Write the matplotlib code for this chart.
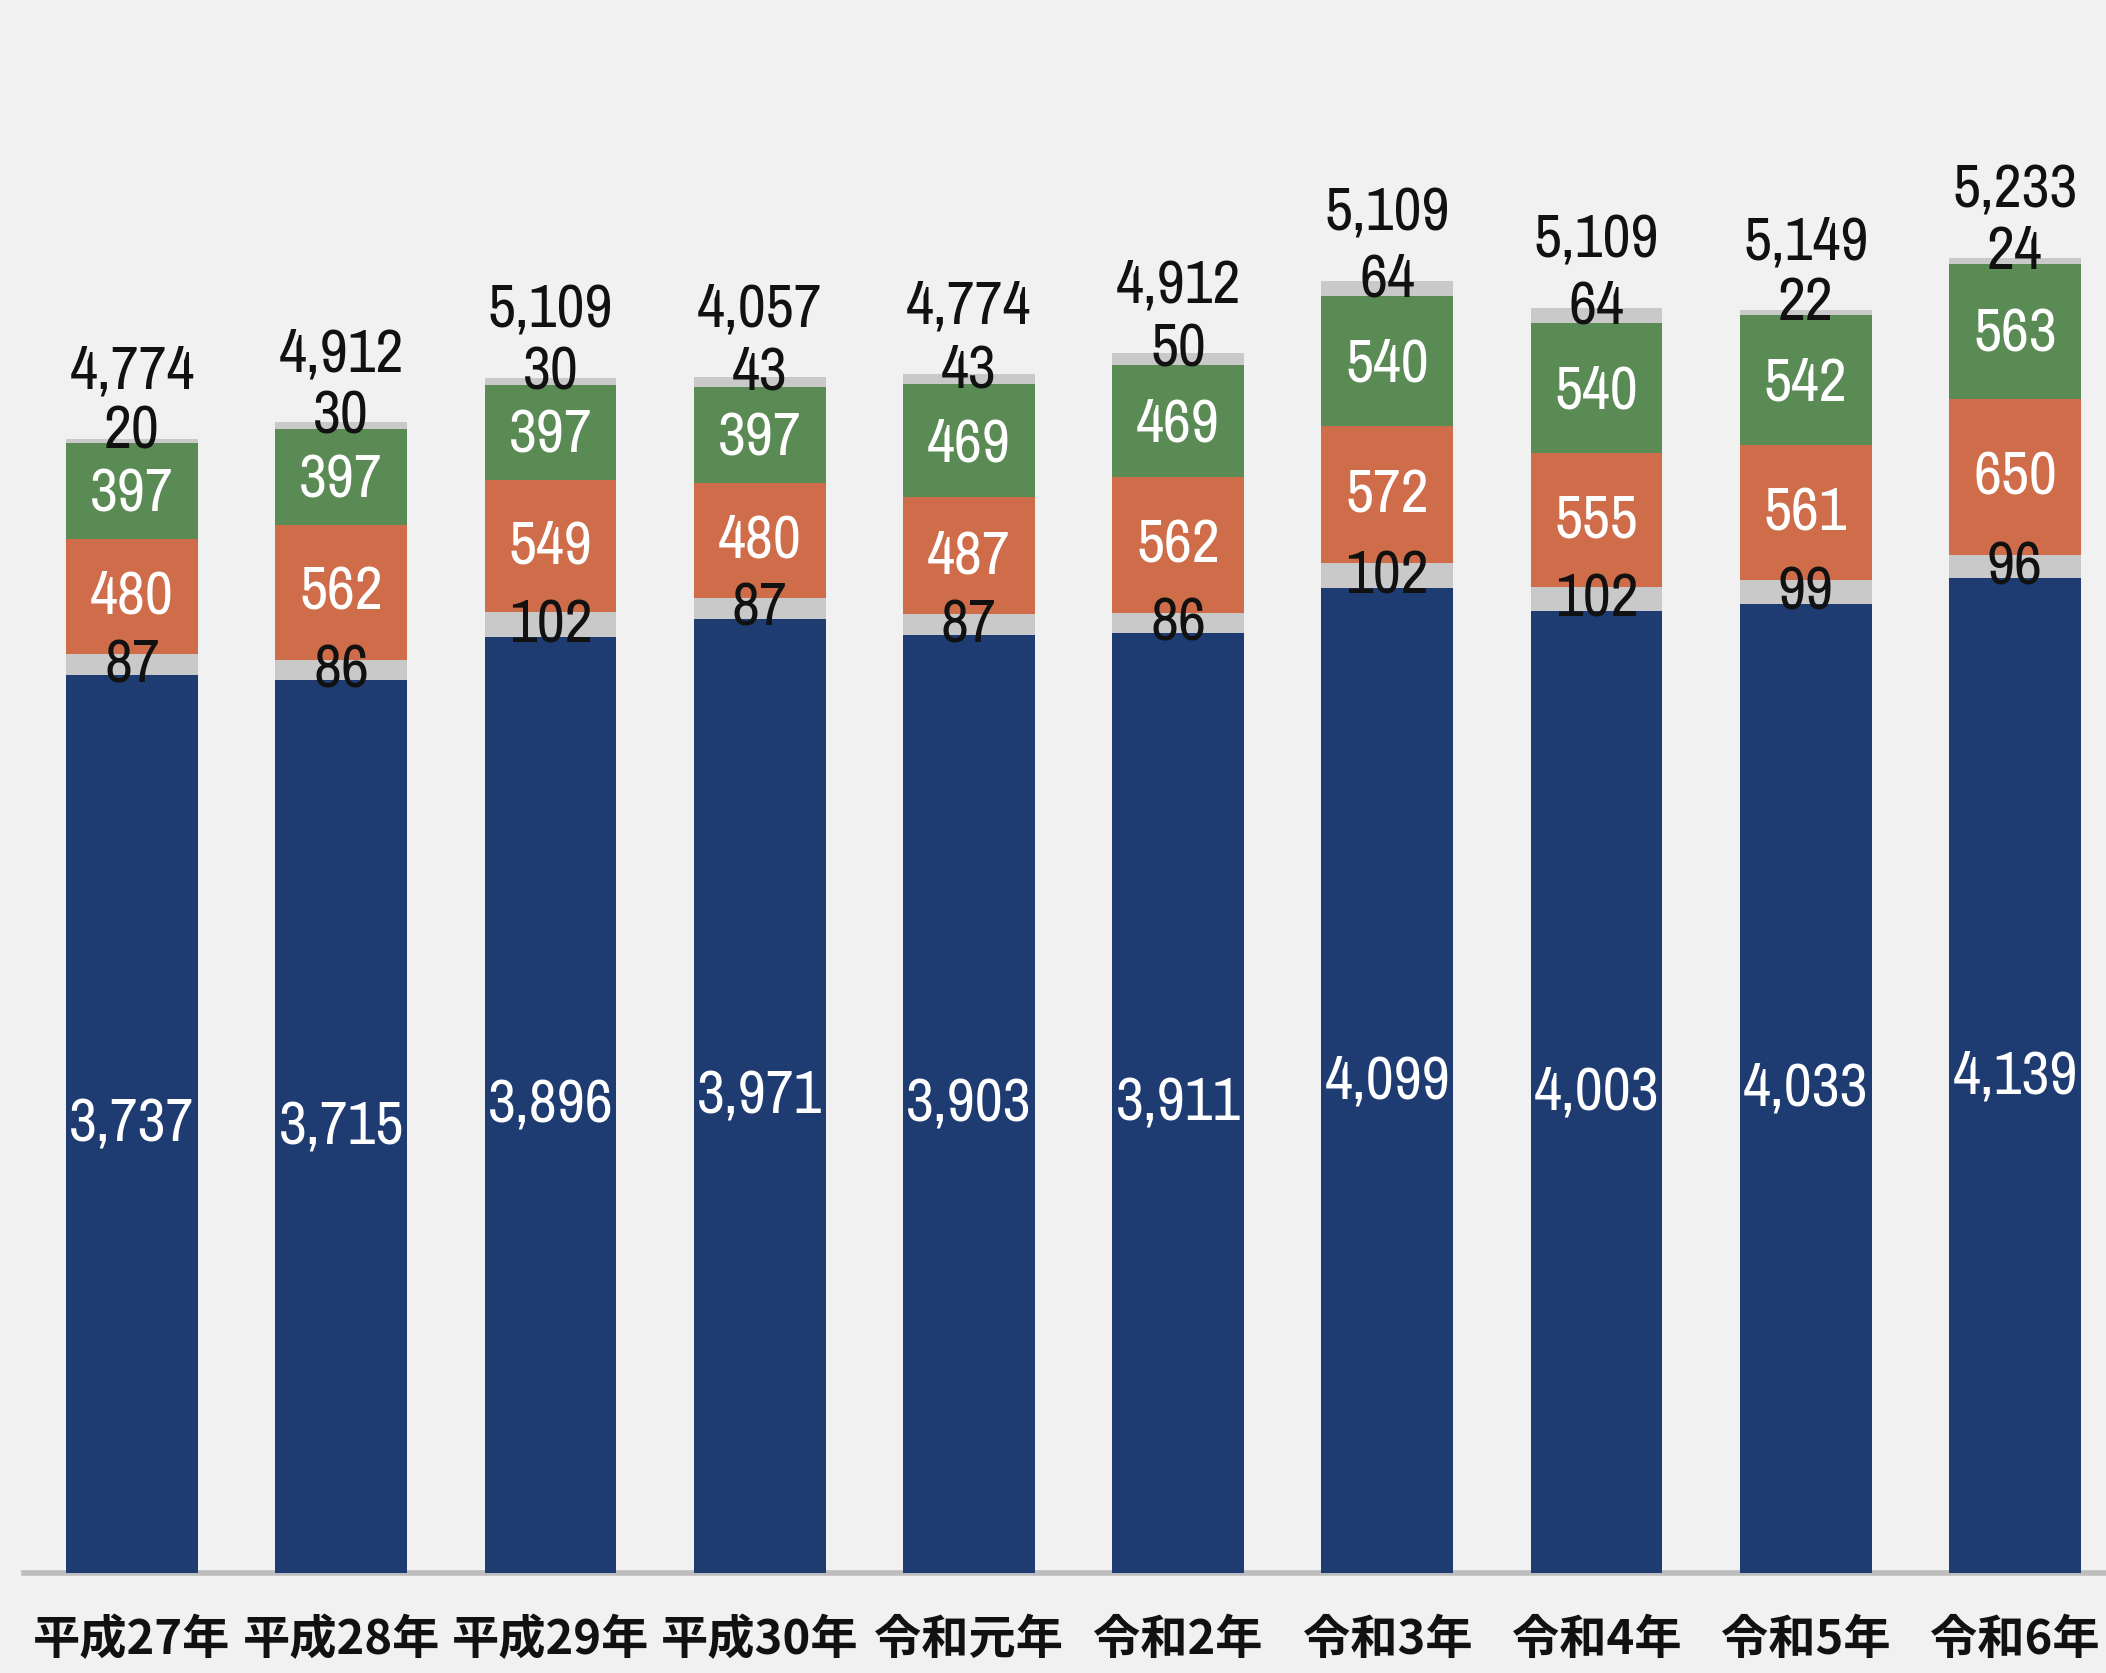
import numpy as np
import matplotlib
matplotlib.use("Agg")
import matplotlib.pyplot as plt
from matplotlib import font_manager as fm

# 年ごとの内訳（下から順に積み上げ）
years = ["平成27年", "平成28年", "平成29年", "平成30年", "令和元年",
         "令和2年", "令和3年", "令和4年", "令和5年", "令和6年"]
navy_vals = [3737, 3715, 3896, 3971, 3903, 3911, 4099, 4003, 4033, 4139]
gray_low_vals = [87, 86, 102, 87, 87, 86, 102, 102, 99, 96]
orange_vals = [480, 562, 549, 480, 487, 562, 572, 555, 561, 650]
green_vals = [397, 397, 397, 397, 469, 469, 540, 540, 542, 563]
gray_top_vals = [20, 30, 30, 43, 43, 50, 64, 64, 22, 24]
total_labels = [4774, 4912, 5109, 4057, 4774, 4912, 5109, 5109, 5149, 5233]

BG = "#f1f1f1"
NAVY = "#1e3c71"
GRAY = "#c9c9c9"
ORANGE = "#cf6c4a"
GREEN = "#5a8b55"

# narrow face for the numbers if one is installed
narrow = sorted({f.name for f in fm.fontManager.ttflist
                 if f.stretch in ("condensed", "semi-condensed", "extra-condensed")
                 or "Narrow" in f.name or "Condensed" in f.name})
if narrow:
    num_kw = dict(family=[narrow[0], "DejaVu Sans"], stretch="condensed", fontsize=44)
else:
    num_kw = dict(family=["Roboto", "DejaVu Sans"], fontsize=38)
jp_font = ["Noto Sans CJK JP", "DejaVu Sans"]

fig = plt.figure(figsize=(21.06, 16.74), dpi=100, facecolor=BG)
ax = fig.add_axes([0.0114, 0.0597, 0.9886, 0.9403], facecolor=BG)

x = np.arange(len(years))
width = 0.63

# values, fill, label colour, vertical nudge of the label (points)
layers = [
    (navy_vals, NAVY, "white", 0),
    (gray_low_vals, GRAY, "#111111", 0),
    (orange_vals, ORANGE, "white", 0),
    (green_vals, GREEN, "white", -2),
    (gray_top_vals, GRAY, "#111111", 7),
]

bottom = np.zeros(len(years))
for vals, color, txt_color, nudge in layers:
    vals = np.array(vals, dtype=float)
    ax.bar(x, vals, width, bottom=bottom, color=color, edgecolor="none", zorder=2)
    for xi, b, v in zip(x, bottom, vals):
        ax.annotate(f"{int(v):,}", (xi, b + v / 2), xytext=(0, nudge),
                    textcoords="offset points", ha="center", va="center",
                    color=txt_color, zorder=3, **num_kw)
    bottom += vals

for xi, top, t in zip(x, bottom, total_labels):
    ax.annotate(f"{t:,}", (xi, top), xytext=(0, 29), textcoords="offset points",
                ha="center", va="bottom", color="#111111", zorder=3,
                fontweight="medium", **num_kw)

ax.set_xlim(-0.516, 9.435)
ax.set_ylim(0, 6550)
ax.axhline(0, color="#bdbdbd", lw=4, zorder=1, clip_on=False)

ax.set_xticks(x)
ax.set_xticklabels(years, family=jp_font, fontsize=34, fontweight="bold", color="#111111")
ax.tick_params(axis="x", length=0, pad=30)
ax.set_yticks([])
for s in ax.spines.values():
    s.set_visible(False)

fig.savefig("out.png", dpi=100, facecolor=BG)
